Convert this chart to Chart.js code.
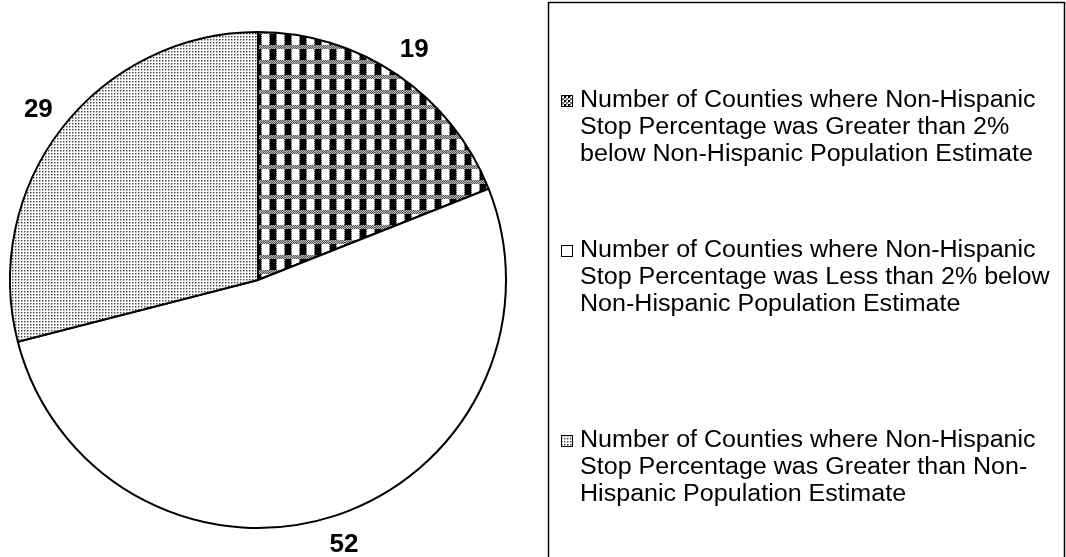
<!DOCTYPE html>
<html>
<head>
<meta charset="utf-8">
<script src="https://cdn.jsdelivr.net/npm/chart.js@4/dist/chart.umd.min.js"></script>
<style>
  body { margin: 0; background: #fff; }
  canvas { display: block; }
</style>
</head>
<body>
<canvas id="countyPie" width="1066" height="557"></canvas>
<script>
/* values */
const categories = [
    ["Number of Counties where Non-Hispanic", "Stop Percentage was Greater than 2%", "below Non-Hispanic Population Estimate"],
    ["Number of Counties where Non-Hispanic", "Stop Percentage was Less than 2% below", "Non-Hispanic Population Estimate"],
    ["Number of Counties where Non-Hispanic", "Stop Percentage was Greater than Non-", "Hispanic Population Estimate"]
];
const counties = [19, 52, 29];

/* small canvas tiles used as fill patterns */
function makeTile(size, paint) {
    const c = document.createElement("canvas");
    c.width = size;
    c.height = size;
    const g = c.getContext("2d");
    g.fillStyle = "#fff";
    g.fillRect(0, 0, size, size);
    paint(g);
    return c;
}

// checkered black/white with dotted grey bands
const checkTile = makeTile(15, (g) => {
    for (let y = 0; y < 15; y++) {
        for (let x = 0; x < 15; x++) {
            const dot = (x + y) % 2 === 0;
            if (y < 4 || x === 6 || x === 14) {
                g.fillStyle = dot ? "#555" : "#bbb";
                g.fillRect(x, y, 1, 1);
            } else if (x < 6) {
                g.fillStyle = "#000";
                g.fillRect(x, y, 1, 1);
            }
        }
    }
});

// fine grey stipple
const dotTile = makeTile(3, (g) => {
    g.fillStyle = "#444";
    g.fillRect(0, 0, 1, 1);
    g.fillStyle = "#a8a8a8";
    g.fillRect(1, 0, 1, 1);
    g.fillRect(0, 1, 1, 1);
    g.fillStyle = "#dcdcdc";
    g.fillRect(1, 1, 1, 1);
});

// mini checker for the legend marker
const miniTile = makeTile(4, (g) => {
    g.fillStyle = "#000";
    g.fillRect(0, 0, 2, 2);
    g.fillStyle = "#777";
    g.fillRect(2, 2, 2, 2);
    g.fillRect(2, 0, 1, 1);
    g.fillRect(0, 2, 1, 1);
});

const ctx0 = document.getElementById("countyPie").getContext("2d");
const checkFill = ctx0.createPattern(checkTile, "repeat");
const dotFill = ctx0.createPattern(dotTile, "repeat");
const miniFill = ctx0.createPattern(miniTile, "repeat");
const sliceFills = [checkFill, "#ffffff", dotFill];
const markerFills = [miniFill, "#ffffff", dotFill];

/* white page behind everything */
const whiteBg = {
    id: "whiteBg",
    beforeDraw(chart) {
        const c = chart.ctx;
        c.save();
        c.fillStyle = "#fff";
        c.fillRect(0, 0, chart.width, chart.height);
        c.restore();
    }
};

/* value labels just outside each slice */
const sliceValues = {
    id: "sliceValues",
    afterDatasetsDraw(chart) {
        const c = chart.ctx;
        const meta = chart.getDatasetMeta(0);
        c.save();
        c.font = "bold 26px 'Liberation Sans', Arial, sans-serif";
        c.fillStyle = "#000";
        c.textAlign = "center";
        c.textBaseline = "middle";
        meta.data.forEach((arc, i) => {
            const p = arc.getProps(["x", "y", "startAngle", "endAngle", "outerRadius"], true);
            const mid = (p.startAngle + p.endAngle) / 2;
            const r = p.outerRadius + 30;
            c.fillText(String(chart.data.datasets[0].data[i]), p.x + Math.cos(mid) * r, p.y + Math.sin(mid) * r);
        });
        c.restore();
    }
};

/* boxed legend on the right, three wrapped entries */
const boxLegend = {
    id: "boxLegend",
    afterDraw(chart) {
        const c = chart.ctx;
        const firstLines = [101, 251, 441];
        const lineGap = 27;
        c.save();
        c.strokeStyle = "#000";
        c.lineWidth = 1.5;
        c.strokeRect(548.5, 2.5, 516, 600);

        c.font = "23px 'Liberation Sans', Arial, sans-serif";
        c.textBaseline = "middle";
        categories.forEach((lines, i) => {
            const y0 = firstLines[i];
            c.fillStyle = markerFills[i];
            c.fillRect(561, y0 - 6, 12, 12);
            c.lineWidth = 1;
            c.strokeRect(561.5, y0 - 5.5, 11, 11);
            c.fillStyle = "#000";
            lines.forEach((t, k) => {
                c.save();
                c.translate(580, y0 + k * lineGap);
                c.scale(1.09, 1);
                c.fillText(t, 0, 0);
                c.restore();
            });
        });
        c.restore();
    }
};

new Chart(ctx0, {
    type: "pie",
    data: {
        labels: categories.map((l) => l.join(" ")),
        datasets: [{
            data: counties,
            backgroundColor: sliceFills,
            borderColor: "#000",
            borderWidth: 2
        }]
    },
    options: {
        responsive: false,
        animation: false,
        layout: { padding: { left: 9, right: 559, top: 31, bottom: 28 } },
        plugins: {
            legend: { display: false },
            tooltip: { enabled: false }
        }
    },
    plugins: [whiteBg, sliceValues, boxLegend]
});
</script>
</body>
</html>
